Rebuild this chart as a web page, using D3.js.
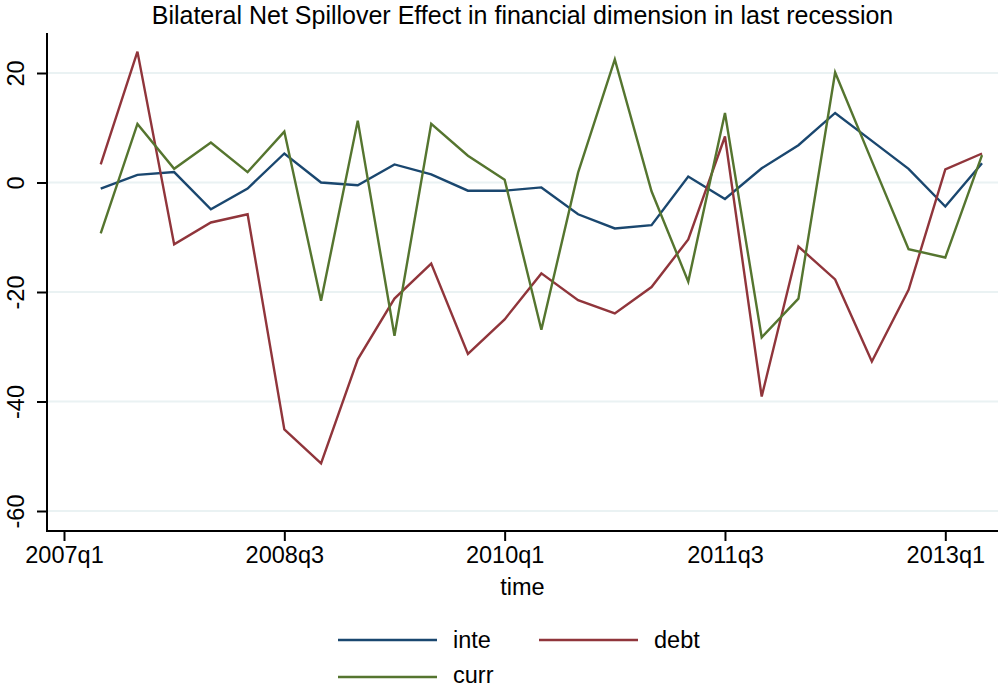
<!DOCTYPE html>
<html>
<head>
<meta charset="utf-8">
<script src="https://cdn.jsdelivr.net/npm/d3@7"></script>
<style>
  html, body { margin: 0; padding: 0; background: #fff; }
  svg { display: block; font-family: "Liberation Sans", Arial, Helvetica, sans-serif; }
</style>
</head>
<body>
<svg id="chart" width="1002" height="689"></svg>
<script>
// Quarters covered by the series
const quarters = [
  "2007q2","2007q3","2007q4","2008q1","2008q2","2008q3","2008q4",
  "2009q1","2009q2","2009q3","2009q4","2010q1","2010q2","2010q3","2010q4",
  "2011q1","2011q2","2011q3","2011q4","2012q1","2012q2","2012q3","2012q4",
  "2013q1","2013q2"
];

// Net spillover series
const inte = [-1.1, 1.4, 1.9, -4.9, -1.1, 5.3, 0.0, -0.5, 3.3, 1.5, -1.5, -1.5, -0.9,
              -5.8, -8.4, -7.8, 1.1, -3.0, 2.6, 6.8, 12.7, 7.6, 2.5, -4.4, 3.5];
const debt = [3.3, 23.9, -11.3, -7.3, -5.8, -45.1, -51.3, -32.3, -21.2, -14.8, -31.3, -25.0, -16.6,
              -21.5, -23.9, -19.1, -10.4, 8.4, -39.1, -11.7, -17.7, -32.7, -19.6, 2.4, 5.3];
const curr = [-9.3, 10.7, 2.5, 7.3, 1.9, 9.3, -21.6, 11.3, -28.0, 10.7, 4.9, 0.5, -26.9,
              1.8, 22.5, -1.6, -18.1, 12.7, -28.3, -21.2, 20.1, 3.9, -12.2, -13.7, 5.0];

const seriesNames = ["inte", "debt", "curr"];
const seriesColors = ["#1a476f", "#90353b", "#55752f"];

const xTickLabels = ["2007q1", "2008q3", "2010q1", "2011q3", "2013q1"];
const yTicks = [-60, -40, -20, 0, 20];

const titleText = "Bilateral Net Spillover Effect in financial dimension in last recession";
const xTitle = "time";

// Convert "YYYYqN" to a running quarter number
const qIndex = s => { const [y, q] = s.split("q").map(Number); return y * 4 + (q - 1); };

const svg = d3.select("#chart");
const plotLeft = 47, plotRight = 998, plotTop = 33, plotBottom = 531;
const labelSize = 23.5;

const x = d3.scaleLinear()
  .domain([qIndex("2007q1"), qIndex("2013q1")])
  .range([64, 945.3]);
const y = d3.scaleLinear()
  .domain([-60, 20])
  .range([511, 73]);

// Gridlines
svg.append("g")
  .selectAll("line")
  .data(yTicks)
  .join("line")
  .attr("x1", plotLeft).attr("x2", plotRight)
  .attr("y1", d => y(d)).attr("y2", d => y(d))
  .attr("stroke", "#eaf2f3").attr("stroke-width", 2);

// Y axis (plain hyphen for negative labels)
const yAxis = svg.append("g")
  .attr("transform", `translate(${plotLeft},0)`)
  .call(d3.axisLeft(y).tickValues(yTicks).tickSize(10).tickSizeOuter(0).tickFormat(d => String(d)));
yAxis.select(".domain").attr("d", `M0,${plotTop}V${plotBottom}`).attr("stroke", "#000").attr("stroke-width", 2);
yAxis.selectAll(".tick line").attr("stroke", "#000").attr("stroke-width", 2);
yAxis.selectAll(".tick text")
  .attr("font-size", labelSize).attr("fill", "#000")
  .attr("x", null).attr("dy", null)
  .attr("text-anchor", "middle")
  .attr("transform", "translate(-23,0) rotate(-90)");

// X axis
const xAxis = svg.append("g")
  .attr("transform", `translate(0,${plotBottom})`)
  .call(d3.axisBottom(x).tickValues(xTickLabels.map(qIndex)).tickSize(10).tickSizeOuter(0)
    .tickFormat((d, i) => xTickLabels[i]));
xAxis.select(".domain").attr("d", `M${plotLeft - 1},0H${plotRight}`).attr("stroke", "#000").attr("stroke-width", 2);
xAxis.selectAll(".tick line").attr("stroke", "#000").attr("stroke-width", 2);
xAxis.selectAll(".tick text")
  .attr("font-size", labelSize).attr("fill", "#000")
  .attr("y", 32).attr("dy", null);

// Series lines
const seriesData = [inte, debt, curr];
const line = d3.line()
  .x((d, i) => x(qIndex(quarters[i])))
  .y(d => y(d));

svg.append("g")
  .selectAll("path")
  .data(seriesData)
  .join("path")
  .attr("d", d => line(d))
  .attr("fill", "none")
  .attr("stroke", (d, i) => seriesColors[i])
  .attr("stroke-width", 2.4)
  .attr("stroke-linejoin", "miter");

// Title
svg.append("text")
  .attr("x", (plotLeft + plotRight) / 2).attr("y", 23.5)
  .attr("text-anchor", "middle").attr("font-size", 25).attr("fill", "#000")
  .text(titleText);

// X axis title
svg.append("text")
  .attr("x", (plotLeft + plotRight) / 2).attr("y", 594.5)
  .attr("text-anchor", "middle").attr("font-size", labelSize).attr("fill", "#000")
  .text(xTitle);

// Legend
const legendPos = [[338, 640], [539, 640], [338, 677]];
const legend = svg.append("g")
  .selectAll("g")
  .data(seriesNames)
  .join("g")
  .attr("transform", (d, i) => `translate(${legendPos[i][0]},${legendPos[i][1]})`);
legend.append("line")
  .attr("x1", 0).attr("x2", 99).attr("y1", 0).attr("y2", 0)
  .attr("stroke", (d, i) => seriesColors[i]).attr("stroke-width", 2.6);
legend.append("text")
  .attr("x", 115).attr("y", (d, i) => i === 2 ? 6 : 8)
  .attr("font-size", labelSize).attr("fill", "#000")
  .text(d => d);
</script>
</body>
</html>
